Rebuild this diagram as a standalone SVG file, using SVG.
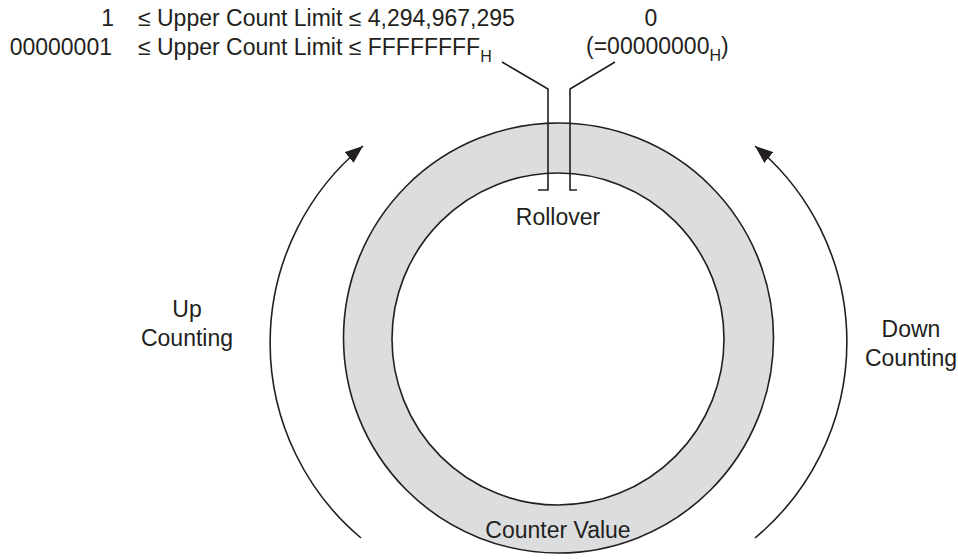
<svg xmlns="http://www.w3.org/2000/svg" width="958" height="559" viewBox="0 0 958 559">
<style>
  text { font-family: "Liberation Sans", Arial, Helvetica, sans-serif; font-size: 23px; fill: #231f20; }
  .mid { text-anchor: middle; }
  .end { text-anchor: end; }
  .sub { font-size: 16px; }
  .ring { stroke: #231f20; stroke-width: 1.6; }
  .conn { fill: none; stroke: #231f20; stroke-width: 1.6; }
</style>
<defs>
  <marker id="arrow" markerUnits="userSpaceOnUse" markerWidth="20" markerHeight="14" refX="18" refY="7" orient="auto">
    <path d="M0,0 L18,7 L0,14 z" fill="#231f20"/>
  </marker>
</defs>
<rect width="958" height="559" fill="#ffffff"/>

<g id="counter-ring">
  <circle class="ring" cx="558.5" cy="338" r="215" fill="#dcdddf"/>
  <circle class="ring" cx="558" cy="339" r="166" fill="#ffffff"/>
  <text class="mid" x="558" y="225">Rollover</text>
  <text class="mid" x="558" y="538">Counter Value</text>
</g>

<g id="upper-limit-label">
  <text class="end" x="114" y="26">1</text>
  <text x="138" y="26">≤ Upper Count Limit ≤ 4,294,967,295</text>
  <text class="end" x="112" y="55">00000001</text>
  <text x="138" y="55">≤ Upper Count Limit ≤ FFFFFFFF<tspan class="sub" dy="7">H</tspan></text>
</g>

<g id="zero-label">
  <text class="mid" x="651" y="26">0</text>
  <text x="586" y="54">(=00000000<tspan class="sub" dy="7">H</tspan><tspan dy="-7">)</tspan></text>
</g>

<g id="up-counting">
  <text class="mid" x="187" y="317">Up</text>
  <text class="mid" x="187" y="346">Counting</text>
</g>

<g id="down-counting">
  <text class="mid" x="911" y="337">Down</text>
  <text class="mid" x="911" y="366">Counting</text>
</g>

<g id="connectors">
  <polyline class="conn" points="502,62 548,89 548,190 538,190"/>
  <polyline class="conn" points="615,62 570,89 570,190 577,190"/>
  <path class="conn" d="M361,538 A255,255 0 0 1 363,146" marker-end="url(#arrow)"/>
  <path class="conn" d="M755,538 A255,255 0 0 0 755,146" marker-end="url(#arrow)"/>
</g>
</svg>
